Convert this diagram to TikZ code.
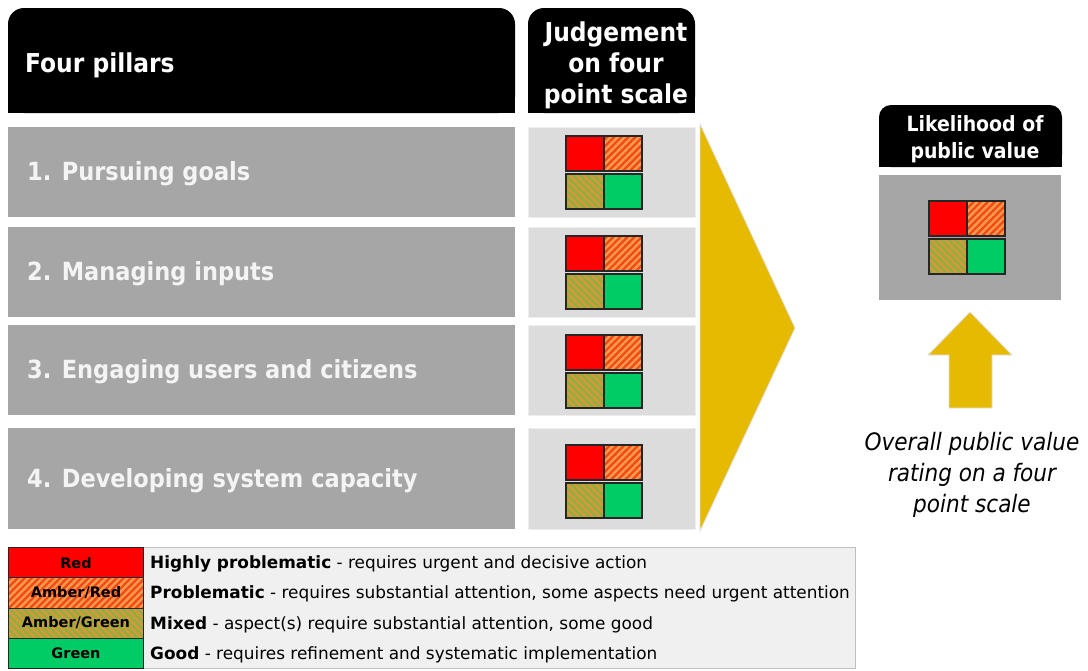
\documentclass[tikz,border=0pt]{standalone}
\usepackage{fontspec}
\setmainfont{DejaVu Sans}
\newfontfamily\condf{DejaVu Sans Condensed}
\usetikzlibrary{patterns.meta}
\definecolor{rowgray}{HTML}{A6A6A6}
\definecolor{ratebg}{HTML}{DCDCDC}
\definecolor{gold}{HTML}{E6BA00}
\definecolor{rred}{HTML}{FF0000}
\definecolor{rgreen}{HTML}{00CC66}
\definecolor{amberA}{HTML}{FF9A45}
\definecolor{amberB}{HTML}{EE4A1E}
\definecolor{agA}{HTML}{8FB040}
\definecolor{agB}{HTML}{D8983A}
\definecolor{legbgc}{HTML}{F0F0F0}
\definecolor{rowtxt}{HTML}{F4F4F4}
\tikzset{
  cell/.style={draw=black!85, line width=1.6pt, minimum width=38pt, minimum height=35pt, inner sep=0pt, anchor=north west},
  redc/.style={cell, fill=rred},
  grc/.style={cell, fill=rgreen},
  arc/.style={cell, preaction={fill=amberB}, pattern={Lines[angle=45,distance=5pt,line width=2.4pt]}, pattern color=amberA},
  agc/.style={cell, preaction={fill=agB}, pattern={Lines[angle=-45,distance=5pt,line width=2.4pt]}, pattern color=agA},
  rowbox/.style={fill=rowgray, minimum width=507pt, inner sep=0pt, anchor=north west},
  ratebox/.style={fill=ratebg, draw=white!93!black, line width=0.8pt, minimum width=167pt, inner sep=0pt, anchor=north west},
  rowtext/.style={text=rowtxt, font=\condf\bfseries\fontsize{25}{30}\selectfont, anchor=west, inner sep=0pt},
  hdr/.style={text=white, font=\condf\bfseries\fontsize{26}{31}\selectfont, inner sep=0pt},
  lcell/.style={draw=black!85, line width=1pt, minimum width=135pt, minimum height=30.25pt, inner sep=0pt, anchor=north west, font=\bfseries\fontsize{14.5}{16}\selectfont},
  ltext/.style={anchor=west, inner sep=0pt, font=\fontsize{16.9}{19}\selectfont},
}
\newcommand\ratingset[3]{%
  \node[redc] (#1r) at (#2,#3) {};
  \node[arc] (#1ar) at (#2+38,#3) {};
  \node[agc] (#1ag) at (#2,#3+38) {};
  \node[grc] (#1g) at (#2+38,#3+38) {};
}
\begin{document}
\begin{tikzpicture}[x=1pt,y=-1pt]
\useasboundingbox (0,0) rectangle (1088,670);
% headers
\fill[black, rounded corners=16pt] (8,8) rectangle (515,113);
\fill[black] (8,60) rectangle (515,113);
\node[hdr, anchor=west] (fp) at (25,65) {Four pillars};
\fill[black, rounded corners=16pt] (528,8) rectangle (695,113);
\fill[black] (528,60) rectangle (695,113);
\node[hdr, align=center] (jd) at (616,65) {Judgement\\on four\\point scale};
% rows
\node[rowbox, minimum height=90pt] (p1) at (8,127) {};
\node[rowbox, minimum height=90pt] (p2) at (8,227) {};
\node[rowbox, minimum height=90pt] (p3) at (8,325) {};
\node[rowbox, minimum height=101pt] (p4) at (8,428) {};
\node[rowtext] (t1) at ([xshift=19pt,yshift=-1.5pt]p1.west) {1. Pursuing goals};
\node[rowtext] (t2) at ([xshift=19pt,yshift=-1.5pt]p2.west) {2. Managing inputs};
\node[rowtext] (t3) at ([xshift=19pt,yshift=-1.5pt]p3.west) {3. Engaging users and citizens};
\node[rowtext] (t4) at ([xshift=19pt,yshift=-1.5pt]p4.west) {4. Developing system capacity};
\node[ratebox, minimum height=90pt] (b1) at (528,127) {};
\node[ratebox, minimum height=90pt] (b2) at (528,227) {};
\node[ratebox, minimum height=90pt] (b3) at (528,325) {};
\node[ratebox, minimum height=101pt] (b4) at (528,428) {};
\ratingset{s1}{565}{135}
\ratingset{s2}{565}{235}
\ratingset{s3}{565}{334}
\ratingset{s4}{565}{444}
% big arrow
\filldraw[fill=gold, draw=white!88!black, line width=0.8pt] (700,124) -- (795,328) -- (700,531) -- cycle;
% right panel
\fill[black, rounded corners=12pt] (879,105) rectangle (1062,167);
\fill[black] (879,135) rectangle (1062,167);
\node[hdr, align=center, font=\condf\bfseries\fontsize{21}{27}\selectfont] (lh) at (975,139) {Likelihood of\\public value};
\node[fill=rowgray, minimum width=182pt, minimum height=125pt, inner sep=0pt, anchor=north west] (pv) at (879,175) {};
\ratingset{s5}{928}{200}
% up arrow
\filldraw[fill=gold, draw=white!88!black, line width=0.8pt] (970,312) -- (1012,355) -- (992,355) -- (992,408) -- (949,408) -- (949,355) -- (928,355) -- cycle;
\node[align=center, inner sep=0pt, font=\condf\itshape\fontsize{24}{31}\selectfont] (ov) at (972,475) {Overall public value\\rating on a four\\point scale};
% legend
\node[fill=legbgc, draw=black!25, line width=0.8pt, minimum width=712pt, minimum height=121pt, inner sep=0pt, anchor=north west] (lbg) at (143,547) {};
\node[lcell, fill=rred] (lr) at (8,547) {Red};
\node[lcell, preaction={fill=amberB}, pattern={Lines[angle=45,distance=5pt,line width=2.4pt]}, pattern color=amberA] (lar) at (8,577.25) {Amber/Red};
\node[lcell, preaction={fill=agB}, pattern={Lines[angle=-45,distance=5pt,line width=2.4pt]}, pattern color=agA] (lag) at (8,607.5) {Amber/Green};
\node[lcell, fill=rgreen] (lg) at (8,637.75) {Green};
\node[ltext] (x1) at (150,564) {\textbf{Highly problematic} - requires urgent and decisive action};
\node[ltext] (x2) at (150,594) {\textbf{Problematic} - requires substantial attention, some aspects need urgent attention};
\node[ltext] (x3) at (150,624.5) {\textbf{Mixed} - aspect(s) require substantial attention, some good};
\node[ltext] (x4) at (150,655) {\textbf{Good} - requires refinement and systematic implementation};
\end{tikzpicture}
\end{document}
